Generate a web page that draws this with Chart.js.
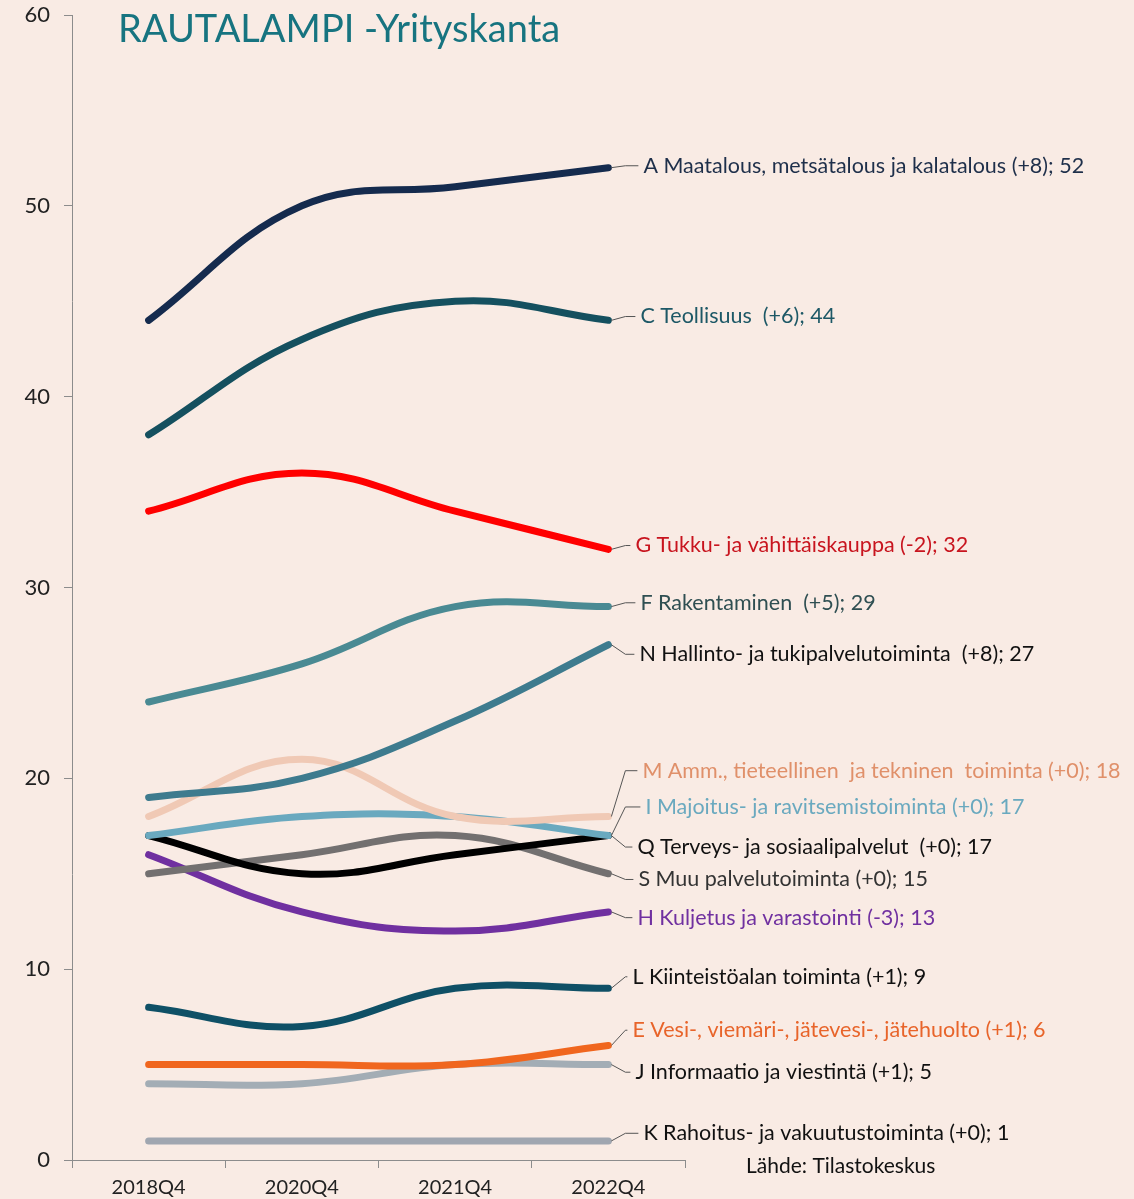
<!DOCTYPE html>
<html lang="fi">
<head>
<meta charset="utf-8">
<title>Rautalampi yrityskanta</title>
<script src="https://cdn.jsdelivr.net/npm/chart.js@4.4.1/dist/chart.umd.min.js"></script>
<style>
  html, body { margin: 0; padding: 0; background: #f9ebe4; }
  #wrap { width: 1134px; height: 1199px; position: relative; }
</style>
</head>
<body>
<div id="wrap"><canvas id="c"></canvas></div>
<script>
// data
var quarters = ['2018Q4', '2020Q4', '2021Q4', '2022Q4'];

var maatalous   = [44, 50, 51, 52];
var teollisuus  = [38, 43, 45, 44];
var kauppa      = [34, 36, 34, 32];
var rakentam    = [24, 26, 29, 29];
var hallinto    = [19, 20, 23, 27];
var ammatill    = [18, 21, 18, 18];
var majoitus    = [17, 18, 18, 17];
var terveys     = [17, 15, 16, 17];
var muuPalv     = [15, 16, 17, 15];
var kuljetus    = [16, 13, 12, 13];
var kiinteisto  = [8, 7, 9, 9];
var vesi        = [5, 5, 5, 6];
var informaatio = [4, 4, 5, 5];
var rahoitus    = [1, 1, 1, 1];

var names = [
  'A Maatalous, metsätalous ja kalatalous (+8); 52',
  'C Teollisuus  (+6); 44',
  'G Tukku- ja vähittäiskauppa (-2); 32',
  'F Rakentaminen  (+5); 29',
  'N Hallinto- ja tukipalvelutoiminta  (+8); 27',
  'M Amm., tieteellinen  ja tekninen  toiminta (+0); 18',
  'I Majoitus- ja ravitsemistoiminta (+0); 17',
  'Q Terveys- ja sosiaalipalvelut  (+0); 17',
  'S Muu palvelutoiminta (+0); 15',
  'H Kuljetus ja varastointi (-3); 13',
  'L Kiinteistöalan toiminta (+1); 9',
  'E Vesi-, viemäri-, jätevesi-, jätehuolto (+1); 6',
  'J Informaatio ja viestintä (+1); 5',
  'K Rahoitus- ja vakuutustoiminta (+0); 1'
];
var series = [maatalous, teollisuus, kauppa, rakentam, hallinto, ammatill, majoitus,
              terveys, muuPalv, kuljetus, kiinteisto, vesi, informaatio, rahoitus];

// styling
var lineColors = ['#152b4e', '#15505f', '#ff0000', '#4a8a93', '#3e7b8e', '#f0c9b5', '#6aa9bf',
                  '#000000', '#737070', '#7030a0', '#0f5066', '#f0661e', '#a3adb5', '#a0a6b0'];
var textColors = ['#1e2f4a', '#1d5866', '#c8141e', '#2f4f52', '#111111', '#e0906a', '#6aa9bf',
                  '#111111', '#333333', '#7030a0', '#111111', '#e8642a', '#111111', '#111111'];
// label placement (value units for y, pixel offset for x)
var labelAt = [52.1, 44.2, 32.2, 29.2, 26.5, 20.4, 18.5, 16.4, 14.7, 12.7, 9.6, 6.8, 4.6, 1.4];
var labelDx = [35, 32, 27, 32, 31, 34, 37, 29, 30, 29, 24, 24, 27, 35];

var FONT = 'Lato, "Open Sans", sans-serif';

var datasets = series.map(function (s, i) {
  return {
    label: names[i],
    data: s,
    borderColor: lineColors[i],
    backgroundColor: lineColors[i],
    borderWidth: 7,
    borderCapStyle: 'round',
    tension: 0.4,
    pointRadius: 0,
    fill: false
  };
});

var endLabels = {
  id: 'endLabels',
  afterDatasetsDraw: function (chart) {
    var ctx = chart.ctx;
    var y = chart.scales.y;
    ctx.save();
    ctx.font = '21.5px ' + FONT;
    ctx.textBaseline = 'middle';
    chart.data.datasets.forEach(function (ds, i) {
      var meta = chart.getDatasetMeta(i);
      var p = meta.data[meta.data.length - 1];
      var ly = y.getPixelForValue(labelAt[i]);
      var lx = p.x + labelDx[i];
      ctx.strokeStyle = '#555555';
      ctx.lineWidth = 1;
      ctx.beginPath();
      ctx.moveTo(p.x + 3, p.y);
      ctx.lineTo(p.x + 17, ly);
      ctx.lineTo(lx - 5, ly);
      ctx.stroke();
      ctx.fillStyle = textColors[i];
      ctx.textAlign = 'left';
      ctx.fillText(ds.label, lx, ly);
    });
    // title and source
    ctx.fillStyle = '#177480';
    ctx.font = '38px ' + FONT;
    ctx.fillText('RAUTALAMPI -Yrityskanta', 118, 30);
    ctx.fillStyle = '#111111';
    ctx.font = '21px ' + FONT;
    ctx.fillText('Lähde: Tilastokeskus', 746, 1166);
    ctx.restore();
  }
};

new Chart(document.getElementById('c'), {
  type: 'line',
  data: { labels: quarters, datasets: datasets },
  options: {
    responsive: true,
    maintainAspectRatio: false,
    animation: false,
    layout: { padding: { top: 15, right: 449, left: 0, bottom: 0 } },
    plugins: { legend: { display: false }, tooltip: { enabled: false } },
    scales: {
      x: {
        offset: true,
        grid: { offset: true, drawOnChartArea: false, drawTicks: true, tickLength: 8, color: '#8c8c8c' },
        border: { color: '#8c8c8c', width: 1 },
        ticks: { color: '#222222', font: { family: FONT, size: 20 }, padding: 8, maxRotation: 0 },
        afterFit: function (s) { s.height = 39; s.paddingLeft = 0; s.paddingRight = 0; }
      },
      y: {
        min: 0,
        max: 60,
        ticks: { stepSize: 10, color: '#222222', font: { family: FONT, size: 22 }, padding: 14 },
        grid: { drawOnChartArea: false, drawTicks: true, tickLength: 8, color: '#8c8c8c' },
        border: { color: '#8c8c8c', width: 1 },
        afterFit: function (s) { s.width = 72; s.paddingTop = 0; s.paddingBottom = 0; }
      }
    }
  },
  plugins: [endLabels]
});
</script>
</body>
</html>
